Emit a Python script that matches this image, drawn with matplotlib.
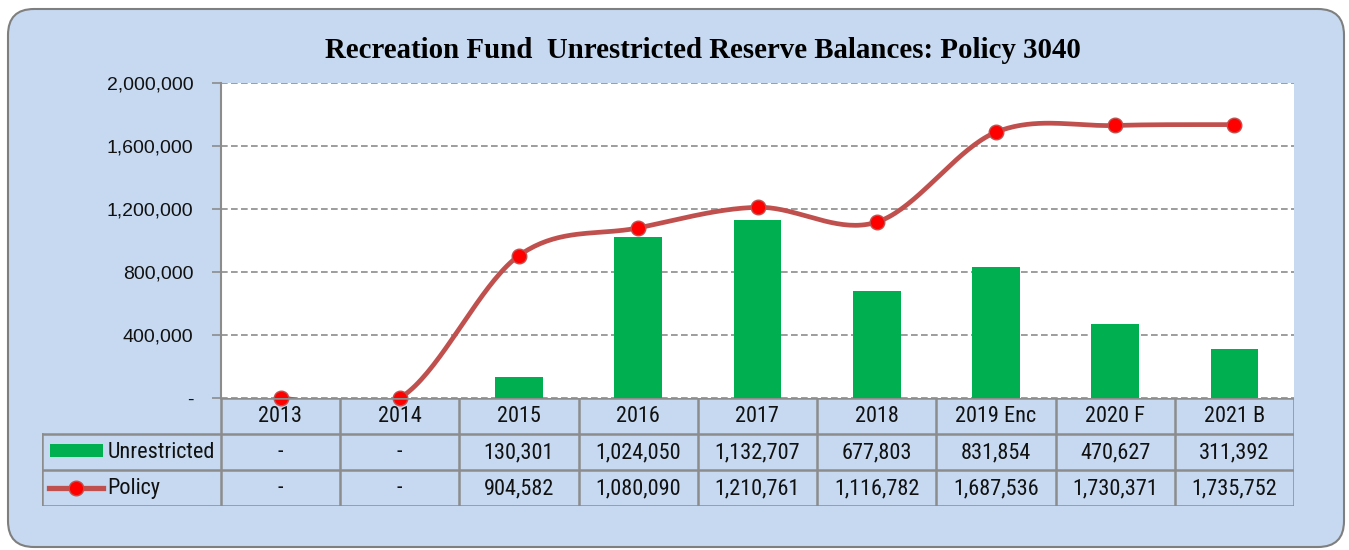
import numpy as np
import matplotlib
matplotlib.use("Agg")
import matplotlib.pyplot as plt
from matplotlib import font_manager
from matplotlib.patches import FancyBboxPatch, Rectangle
from matplotlib.lines import Line2D
from matplotlib.ticker import FuncFormatter

# data
categories = ['2013', '2014', '2015', '2016', '2017', '2018', '2019 Enc', '2020 F', '2021 B']
unrestricted = [0, 0, 130301, 1024050, 1132707, 677803, 831854, 470627, 311392]
policy = [0, 0, 904582, 1080090, 1210761, 1116782, 1687536, 1730371, 1735752]
yticks = [0, 400000, 800000, 1200000, 1600000, 2000000]

BG = '#c6d9f1'
GRID = '#8c8c8c'
GREEN = '#00b050'
LINE_RED = '#c0504d'
MARK_RED = '#ff0000'

W, H = 1349, 550

# pick a narrow font for the table if one is around, else plain Liberation Sans a bit smaller
installed = {f.name for f in font_manager.fontManager.ttflist}
TABLE_FONT, TABLE_SIZE = ['Liberation Sans', 'DejaVu Sans'], 14
for name in ['Liberation Sans Narrow', 'Roboto Condensed', 'DejaVu Sans Condensed', 'Open Sans Condensed']:
    if name in installed:
        TABLE_FONT, TABLE_SIZE = [name, 'DejaVu Sans'], 16
        break


def smooth_curve(xs, ys, steps=40):
    """Excel-like smoothed line: cubic bezier, control points from neighbours / 6."""
    pts = np.column_stack([xs, ys]).astype(float)
    n = len(pts)
    out = []
    for i in range(n - 1):
        p0 = pts[i - 1] if i > 0 else pts[i]
        p1 = pts[i]
        p2 = pts[i + 1]
        p3 = pts[i + 2] if i + 2 < n else pts[i + 1]
        c1 = p1 + (p2 - p0) / 6.0
        c2 = p2 - (p3 - p1) / 6.0
        t = np.linspace(0, 1, steps)[:, None]
        seg = ((1 - t) ** 3) * p1 + 3 * ((1 - t) ** 2) * t * c1 + 3 * (1 - t) * t ** 2 * c2 + t ** 3 * p2
        out.append(seg if i == 0 else seg[1:])
    out = np.vstack(out)
    return out[:, 0], out[:, 1]


def px_box(x0, y0, x1, y1):
    # pixel box (top-left origin) -> figure fraction [left, bottom, width, height]
    return [x0 / W, 1 - y1 / H, (x1 - x0) / W, (y1 - y0) / H]


fig = plt.figure(figsize=(W / 100, H / 100), dpi=100)
fig.patch.set_facecolor('white')

# rounded light blue background panel, on its own pixel-space axes
bg = fig.add_axes([0, 0, 1, 1], zorder=-5)
bg.set_xlim(0, W)
bg.set_ylim(H, 0)
bg.axis('off')
bg.add_patch(FancyBboxPatch((8, 9), 1336, 538, boxstyle='round,pad=0,rounding_size=26',
                            facecolor=BG, edgecolor='#7f7f7f', linewidth=1.5))

fig.text(703 / W, 1 - 51 / H, 'Recreation Fund  Unrestricted Reserve Balances: Policy 3040',
         ha='center', va='center', fontsize=20.8, fontweight='bold',
         family=['Liberation Serif', 'DejaVu Serif'])

# main plot
ax = fig.add_axes(px_box(221, 83, 1294, 398))
ax.set_facecolor('white')
x = np.arange(len(categories))
ax.bar(x, unrestricted, width=0.4, color=GREEN, zorder=2)
sx, sy = smooth_curve(x, policy)
ax.plot(sx, sy, color=LINE_RED, linewidth=3.4, zorder=3, solid_capstyle='round')
ax.plot(x, policy, linestyle='none', marker='o', markersize=10.5,
        markerfacecolor=MARK_RED, markeredgecolor=LINE_RED, markeredgewidth=1, zorder=4,
        clip_on=False)

ax.set_xlim(-0.5, len(categories) - 0.5)
ax.set_ylim(0, 2000000)
ax.set_yticks(yticks)
ax.yaxis.set_major_formatter(FuncFormatter(lambda v, p: '-' if v == 0 else f'{v:,.0f}'))
ax.set_xticks([])
ax.grid(axis='y', linestyle=(0, (4, 2)), color=GRID, linewidth=1.2, zorder=0)
ax.set_axisbelow(True)
for s in ['top', 'right', 'bottom']:
    ax.spines[s].set_visible(False)
ax.spines['left'].set_color(GRID)
ax.spines['left'].set_linewidth(1.5)
ax.tick_params(axis='y', length=6.5, width=1.2, color=GRID, pad=13.5, labelsize=14)
for lbl in ax.get_yticklabels():
    lbl.set_family(['Liberation Sans', 'DejaVu Sans'])
    lbl.set_color('#111111')

# data table underneath
tab = fig.add_axes(px_box(42, 398, 1294, 506))
tab.set_xlim(-2.0, len(categories) - 0.5)
tab.set_ylim(3, 0)
tab.axis('off')
tab.patch.set_alpha(0)

n = len(categories)
lkw = dict(color=GRID, linewidth=1.8, solid_capstyle='projecting')
tab.plot([-0.5, n - 0.5], [0, 0], **lkw)
for r in (1, 2, 3):
    tab.plot([-2.0, n - 0.5], [r, r], **lkw)
for k in range(n + 1):
    tab.plot([k - 0.5, k - 0.5], [0, 3], **lkw)
tab.plot([-2.0, -2.0], [1, 3], **lkw)

tkw = dict(ha='center', va='center', fontsize=TABLE_SIZE, family=TABLE_FONT, color='#111111')
for i, cat in enumerate(categories):
    tab.text(i, 0.52, cat, **tkw)
    tab.text(i, 1.52, '-' if unrestricted[i] == 0 else f'{unrestricted[i]:,}', **tkw)
    tab.text(i, 2.52, '-' if policy[i] == 0 else f'{policy[i]:,}', **tkw)

# legend keys inside the first column
tab.add_patch(Rectangle((-1.93, 1.28), 0.44, 0.36, facecolor=GREEN, edgecolor='none'))
tab.text(-1.45, 1.52, 'Unrestricted', ha='left', va='center', fontsize=TABLE_SIZE,
         family=TABLE_FONT, color='#111111')
tab.add_line(Line2D([-1.94, -1.49], [2.5, 2.5], color=LINE_RED, linewidth=3.8))
tab.plot([-1.715], [2.5], marker='o', markersize=10.5, markerfacecolor=MARK_RED,
         markeredgecolor=LINE_RED, markeredgewidth=1)
tab.text(-1.45, 2.52, 'Policy', ha='left', va='center', fontsize=TABLE_SIZE,
         family=TABLE_FONT, color='#111111')

fig.savefig('out.png', dpi=100)
